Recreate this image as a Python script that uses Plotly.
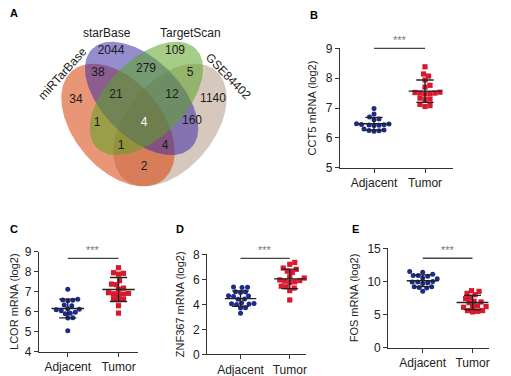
import numpy as np
import plotly.graph_objects as go

W, H = 511, 376
OFF = 8  # page offset of the plot div inside the browser window (body margin)
FONT = "Arial, Liberation Sans, sans-serif"

# ---------------- data ----------------
venn_sets = ["miRTarBase", "starBase", "TargetScan", "GSE84402"]
venn_regions = ["1000", "0100", "0010", "0001", "1100", "0110", "0011", "1110",
                "0111", "1010", "1111", "0101", "1011", "1101", "1001"]
venn_counts = [34, 2044, 109, 1140, 38, 279, 5, 21, 12, 1, 4, 160, 1, 4, 2]

groups = ["Adjacent", "Tumor"]
cct5_adjacent = [6.98, 6.80, 6.70, 6.63, 6.61, 6.47, 6.46, 6.45, 6.44, 6.43, 6.42, 6.41,
                 6.30, 6.26, 6.24, 6.22, 6.25]
cct5_tumor = [8.38, 8.14, 8.07, 7.94, 7.76, 7.70, 7.53, 7.52, 7.50, 7.50, 7.48, 7.47,
              7.33, 7.30, 7.28, 7.12, 7.08, 7.05]
lcor_adjacent = [7.12, 6.62, 6.58, 6.57, 6.55, 6.33, 6.30, 6.15, 6.05, 6.12, 6.10, 5.97,
                 5.92, 5.90, 5.70, 5.68, 5.05]
lcor_tumor = [8.20, 7.95, 7.92, 7.88, 7.55, 7.38, 7.35, 7.18, 7.12, 6.92, 6.95, 6.88,
              6.90, 6.85, 6.65, 6.62, 6.60, 6.30, 5.93]
znf367_adjacent = [5.38, 5.36, 5.34, 5.00, 4.98, 4.95, 4.68, 4.66, 4.62, 4.42, 4.40,
                   4.10, 4.06, 4.02, 4.05, 3.98, 3.72, 3.70, 3.28]
znf367_tumor = [7.35, 7.20, 6.90, 6.80, 6.65, 6.55, 6.20, 6.10, 5.95, 5.90, 5.85, 5.80,
                5.75, 5.45, 5.40, 5.30, 5.10, 4.35]
fos_adjacent = [11.5, 11.4, 11.1, 10.9, 10.8, 10.9, 10.5, 10.4, 10.0, 9.9, 9.8, 9.9,
                9.7, 9.2, 9.1, 9.0, 9.2, 8.5]
fos_tumor = [8.6, 8.5, 8.2, 8.0, 7.6, 7.4, 7.0, 6.9, 6.8, 6.3, 6.2, 6.1, 6.2, 5.6,
             5.5, 5.4, 5.6]

# ---------------- layout geometry (window pixels) ----------------
# Venn ellipses: centre x, centre y, semi-major, semi-minor, angle (deg, y down); drawn in order
venn_ellipses = {
    "GSE84402":   dict(cx=170, cy=125, a=71, b=44, ang=130, rgb=(182, 155, 137)),
    "miRTarBase": dict(cx=118, cy=125, a=71, b=44, ang=50, rgb=(215, 64, 6)),
    "starBase":   dict(cx=141.6, cy=98.4, a=70, b=39, ang=-135, rgb=(62, 48, 165)),
    "TargetScan": dict(cx=146.4, cy=98.4, a=70, b=39, ang=-45, rgb=(91, 164, 37)),
}
venn_alpha = 0.55
venn_label_px = {"1000": (76, 100), "0100": (111, 51), "0010": (175, 51), "0001": (213, 99),
                 "1100": (98, 73), "0110": (146, 69), "0011": (190, 73), "1110": (116, 95),
                 "0111": (172, 95), "1010": (97, 123), "1111": (144, 123), "0101": (192, 121),
                 "1011": (121, 146), "1101": (165, 146), "1001": (144, 167)}
venn_setlabel_px = {"miRTarBase": (62, 74, -48), "starBase": (107, 33, 0),
                    "TargetScan": (190, 33, 0), "GSE84402": (228, 76, 46)}

panels = [
    dict(letter="B", adj=cct5_adjacent, tum=cct5_tumor, title="CCT5 mRNA (log2)",
         box=(340, 453, 48.3, 167.7), xr=(-0.667, 1.549), yr=(5, 9), dtick=1, sig=1.0,
         letter_px=(312, 15)),
    dict(letter="C", adj=lcor_adjacent, tum=lcor_tumor, title="LCOR mRNA (log2)",
         box=(39, 138.3, 251.7, 351.7), xr=(-0.567, 1.39), yr=(4, 9), dtick=1, sig=0.934,
         letter_px=(8, 229)),
    dict(letter="D", adj=znf367_adjacent, tum=znf367_tumor, title="ZNF367 mRNA (log2)",
         box=(207.3, 306, 254.3, 354.3), xr=(-0.675, 1.33), yr=(0, 8), dtick=2, sig=0.96,
         letter_px=(178, 229)),
    dict(letter="E", adj=fos_adjacent, tum=fos_tumor, title="FOS mRNA (log2)",
         box=(388.3, 489, 248.3, 347.7), xr=(-0.69, 1.33), yr=(0, 15), dtick=5, sig=0.9,
         letter_px=(354, 229)),
]

BLUE = "#1c2a8a"
RED = "#d7192d"
AX = "#333333"


def px_x(x):
    return (x - OFF) / W


def px_y(y):
    return 1 - (y - OFF) / H


def letter_ann(letter, x, y):
    # keep the glyph inside the drawing surface (its left edge cannot go past the div)
    xx = max(px_x(x) - 4 / W, 0)
    return dict(x=xx, y=px_y(y), xref="paper", yref="paper", text=f"<b>{letter}</b>",
                showarrow=False, font=dict(family=FONT, size=11, color="black"),
                xanchor="left", yanchor="middle")


fig = go.Figure()

# ---------------- Venn ----------------
t = np.linspace(0, 2 * np.pi, 240)
for name, e in venn_ellipses.items():
    th = np.deg2rad(e["ang"])
    xs = e["cx"] + e["a"] * np.cos(t) * np.cos(th) - e["b"] * np.sin(t) * np.sin(th)
    ys = e["cy"] + e["a"] * np.cos(t) * np.sin(th) + e["b"] * np.sin(t) * np.cos(th)
    cr, cg, cb = e["rgb"]
    fig.add_trace(go.Scatter(x=xs, y=ys, xaxis="x5", yaxis="y5", mode="lines", fill="toself",
                             fillcolor=f"rgba({cr},{cg},{cb},{venn_alpha})",
                             line=dict(width=0), hoverinfo="skip", showlegend=False))

fig.add_trace(go.Scatter(
    x=[venn_label_px[k][0] for k in venn_regions],
    y=[venn_label_px[k][1] for k in venn_regions],
    text=[str(c) for c in venn_counts], mode="text", xaxis="x5", yaxis="y5",
    textfont=dict(family=FONT, size=12,
                  color=["white" if k == "1111" else "#1a1a1a" for k in venn_regions]),
    hoverinfo="skip", showlegend=False))

annotations = []
for name in venn_sets:
    x, y, ang = venn_setlabel_px[name]
    annotations.append(dict(x=x, y=y, xref="x5", yref="y5", text=name, showarrow=False,
                            textangle=ang, font=dict(family=FONT, size=12, color="#1a1a1a"),
                            xanchor="center", yanchor="middle"))

annotations.append(letter_ann("A", 8, 13))


def swarm(vals, ppy, ppx, d):
    vals = np.asarray(vals, float)
    order = np.argsort(vals)
    placed = []
    offs = np.zeros(len(vals))
    cands = [0.0]
    for j in range(1, 200):
        cands += [j * 0.5, -j * 0.5]
    for idx in order:
        y = vals[idx] * ppy
        for c in cands:
            if all((c - px) ** 2 + (y - py) ** 2 >= d * d for px, py in placed):
                break
        placed.append((c, y))
        offs[idx] = c / ppx
    return offs


layout_axes = {}
shapes = []
for i, p in enumerate(panels, start=1):
    x0, x1, yt, yb = p["box"]
    xr, yr = p["xr"], p["yr"]
    ppx = (x1 - x0) / (xr[1] - xr[0])
    ppy = (yb - yt) / (yr[1] - yr[0])
    sfx = "" if i == 1 else str(i)
    xa, ya = f"x{sfx}", f"y{sfx}"
    for gi, (vals, col, sym) in enumerate([(p["adj"], BLUE, "circle"), (p["tum"], RED, "square")]):
        offs = swarm(vals, ppy, ppx, 5.0)
        fig.add_trace(go.Scatter(x=gi + offs, y=vals, mode="markers", xaxis=xa, yaxis=ya,
                                 marker=dict(symbol=sym, size=5 if sym == "circle" else 5.2,
                                             color=col, line=dict(width=0)),
                                 hoverinfo="skip", showlegend=False, cliponaxis=False))
    lx, ly = [], []
    for gi, vals in enumerate([p["adj"], p["tum"]]):
        m = float(np.mean(vals))
        s = float(np.std(vals, ddof=1))
        lx += [gi - 0.32, gi + 0.32, None, gi, gi, None,
               gi - 0.17, gi + 0.17, None, gi - 0.17, gi + 0.17, None]
        ly += [m, m, None, m - s, m + s, None, m + s, m + s, None, m - s, m - s, None]
    fig.add_trace(go.Scatter(x=lx, y=ly, mode="lines", xaxis=xa, yaxis=ya,
                             line=dict(color="#222222", width=1.4), hoverinfo="skip",
                             showlegend=False))
    shapes.append(dict(type="line", xref=xa, yref=f"{ya} domain", x0=0, x1=1,
                       y0=p["sig"], y1=p["sig"], line=dict(color="#444444", width=1.3)))
    annotations.append(dict(x=0.5, y=p["sig"], xref=xa, yref=f"{ya} domain", text="***",
                            showarrow=False, yanchor="bottom", yshift=0,
                            font=dict(family=FONT, size=11, color="#777777")))
    annotations.append(letter_ann(p["letter"], *p["letter_px"]))
    common = dict(showline=True, linecolor=AX, linewidth=1.3, ticks="outside", ticklen=4,
                  tickwidth=1.3, tickcolor=AX, showgrid=False, zeroline=False,
                  tickfont=dict(family=FONT, size=12, color="#222222"), automargin=False,
                  fixedrange=True)
    layout_axes[f"xaxis{sfx}"] = dict(domain=[px_x(x0), px_x(x1)], range=list(xr), anchor=ya,
                                      tickvals=[0, 1], ticktext=groups, **common)
    layout_axes[f"yaxis{sfx}"] = dict(domain=[px_y(yb), px_y(yt)], range=list(yr), anchor=xa,
                                      dtick=p["dtick"], tick0=0,
                                      title=dict(text=p["title"], standoff=6,
                                                 font=dict(family=FONT, size=11, color="#222222")),
                                      **common)

# Venn axes: one data unit = one window pixel
layout_axes["xaxis5"] = dict(domain=[0, 260 / W], range=[OFF, OFF + 260], visible=False,
                             anchor="y5", fixedrange=True)
layout_axes["yaxis5"] = dict(domain=[1 - 200 / H, 1], range=[OFF + 200, OFF], visible=False,
                             anchor="x5", fixedrange=True)

fig.update_layout(width=W, height=H, margin=dict(l=0, r=0, t=0, b=0),
                  paper_bgcolor="white", plot_bgcolor="rgba(0,0,0,0)",
                  annotations=annotations, shapes=shapes, showlegend=False,
                  font=dict(family=FONT), **layout_axes)

fig.write_html("out.html")
